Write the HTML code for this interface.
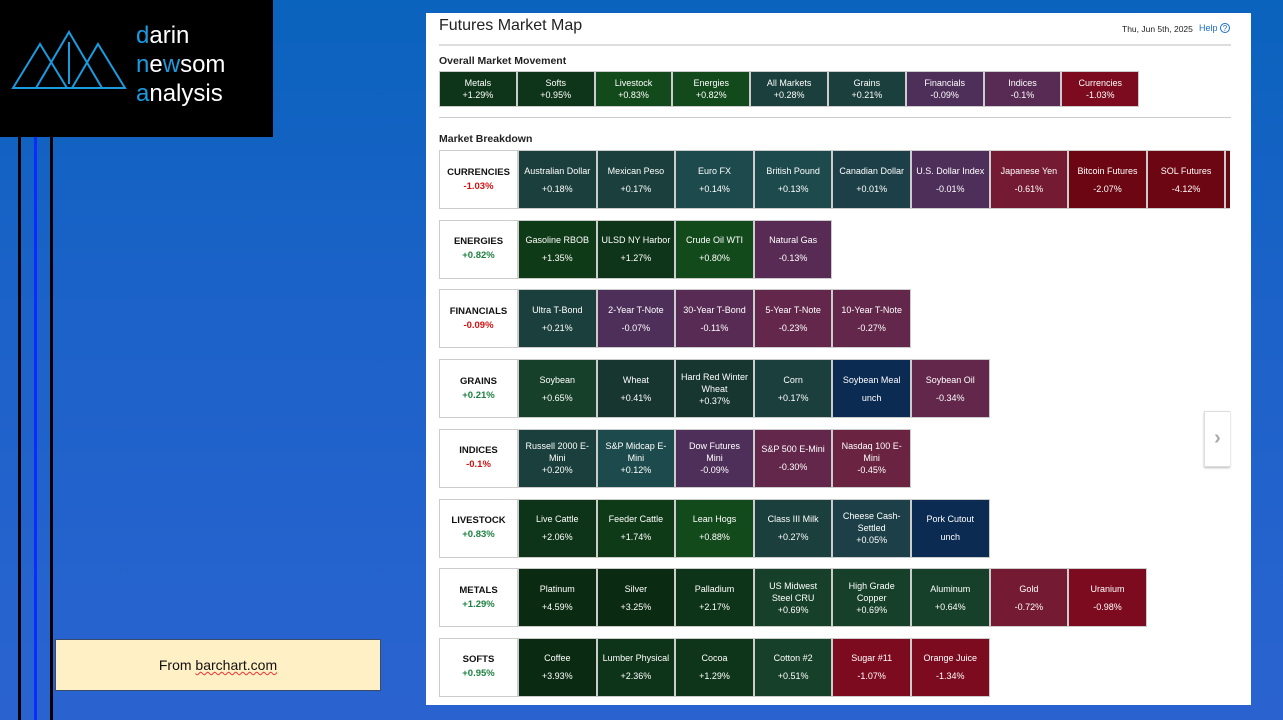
<!DOCTYPE html>
<html><head><meta charset="utf-8">
<style>
*{box-sizing:border-box;margin:0;padding:0}
body{width:1283px;height:720px;overflow:hidden;position:relative;font-family:"Liberation Sans",sans-serif;background:linear-gradient(180deg,#0a63bd 0%,#1b62c8 40%,#2a63d0 100%)}
.abs{position:absolute}
#panel{left:426px;top:13px;width:825px;height:692px;background:#fff}
.tile{position:absolute;color:#fff;font-size:9px;text-align:center;display:flex;flex-direction:column;justify-content:center;align-items:center;line-height:12px;border:1px solid #ccc;white-space:nowrap;overflow:hidden}
.lab{position:absolute;background:#fff;border:1px solid #ccc;text-align:center;display:flex;flex-direction:column;justify-content:center;font-size:9.5px;font-weight:bold;line-height:14px}
</style></head><body>
<div class="abs" style="left:0;top:0;width:273px;height:137px;background:#000">
<svg width="130" height="100" style="position:absolute;left:10px;top:28px">
<g fill="none" stroke="#1a9be0" stroke-width="2">
<polygon points="3,60 30,16 57,60"/><polygon points="26,60 59,4 92,60"/><polygon points="62,60 88,16 115,60"/>
<line x1="59" y1="14" x2="59" y2="56"/></g></svg>
<div class="abs" style="left:136px;top:21px;color:#fff;font-size:24px;line-height:29px"><span style="color:#1a9be0">d</span>arin<br><span style="color:#1a9be0">n</span>e<span style="color:#1a9be0">w</span>som<br><span style="color:#1a9be0">a</span>nalysis</div>
</div>
<div class="abs" style="left:18px;top:137px;width:3px;height:583px;background:#000"></div>
<div class="abs" style="left:34px;top:137px;width:3px;height:583px;background:#0a2cff"></div>
<div class="abs" style="left:50px;top:137px;width:3px;height:583px;background:#000"></div>
<div class="abs" style="left:55px;top:639px;width:326px;height:52px;background:#fff0c6;border:1px solid #3a4a6a;font-size:14px;color:#111;text-align:center;line-height:50px">From <span style="text-decoration:underline wavy #e33 1px">barchart.com</span></div>
<div id="panel" class="abs">
<div class="abs" style="left:13px;top:4px;font-size:16px;color:#222">Futures Market Map</div>
<div class="abs" style="left:696px;top:11px;font-size:8.5px;color:#222">Thu, Jun 5th, 2025</div>
<div class="abs" style="left:773px;top:10px;font-size:9px;color:#1a6fc0">Help <span style="display:inline-block;width:10px;height:10px;border:1px solid #1a6fc0;border-radius:50%;font-size:8px;line-height:9px;text-align:center">?</span></div>
<div class="abs" style="left:13px;top:31px;width:792px;height:2px;background:#ddd"></div>
<div class="abs" style="left:13px;top:42px;font-size:10.5px;font-weight:bold;color:#222">Overall Market Movement</div>
<div class="abs" style="left:13px;top:104px;width:792px;height:1px;background:#ccc"></div>
<div class="abs" style="left:13px;top:120px;font-size:10.5px;font-weight:bold;color:#222">Market Breakdown</div>
<div class="abs" style="left:778px;top:398px;width:26px;height:56px;border:1px solid #ddd;border-right:none;box-shadow:0 1px 2px #bbb;color:#aaa;font-size:20px;font-weight:bold;text-align:center;line-height:52px">›</div>
<div id="map" class="abs" style="left:0;top:0;width:804px;height:692px;overflow:hidden"></div>
</div>
<script>
const overallNames=["Metals","Softs","Livestock","Energies","All Markets","Grains","Financials","Indices","Currencies"];
const overallValues=[1.29,0.95,0.83,0.82,0.28,0.21,-0.09,-0.1,-1.03];
const groupNames=["CURRENCIES","ENERGIES","FINANCIALS","GRAINS","INDICES","LIVESTOCK","METALS","SOFTS"];
const groupValues=[-1.03,0.82,-0.09,0.21,-0.1,0.83,1.29,0.95];
const itemNames=[
["Australian Dollar","Mexican Peso","Euro FX","British Pound","Canadian Dollar","U.S. Dollar Index","Japanese Yen","Bitcoin Futures","SOL Futures",""],
["Gasoline RBOB","ULSD NY Harbor","Crude Oil WTI","Natural Gas"],
["Ultra T-Bond","2-Year T-Note","30-Year T-Bond","5-Year T-Note","10-Year T-Note"],
["Soybean","Wheat","Hard Red Winter Wheat","Corn","Soybean Meal","Soybean Oil"],
["Russell 2000 E-Mini","S&P Midcap E-Mini","Dow Futures Mini","S&P 500 E-Mini","Nasdaq 100 E-Mini"],
["Live Cattle","Feeder Cattle","Lean Hogs","Class III Milk","Cheese Cash-Settled","Pork Cutout"],
["Platinum","Silver","Palladium","US Midwest Steel CRU","High Grade Copper","Aluminum","Gold","Uranium"],
["Coffee","Lumber Physical","Cocoa","Cotton #2","Sugar #11","Orange Juice"]];
const itemValues=[
[0.18,0.17,0.14,0.13,0.01,-0.01,-0.61,-2.07,-4.12,-5],
[1.35,1.27,0.80,-0.13],
[0.21,-0.07,-0.11,-0.23,-0.27],
[0.65,0.41,0.37,0.17,0,-0.34],
[0.20,0.12,-0.09,-0.30,-0.45],
[2.06,1.74,0.88,0.27,0.05,0],
[4.59,3.25,2.17,0.69,0.69,0.64,-0.72,-0.98],
[3.93,2.36,1.29,0.51,-1.07,-1.34]];
const wrapFirst={"Hard Red Winter Wheat":"Hard Red Winter","Russell 2000 E-Mini":"Russell 2000 E-","S&P Midcap E-Mini":"S&P Midcap E-","Dow Futures Mini":"Dow Futures","Nasdaq 100 E-Mini":"Nasdaq 100 E-","Cheese Cash-Settled":"Cheese Cash-","US Midwest Steel CRU":"US Midwest","High Grade Copper":"High Grade"};
function color(v){
 if(v===0)return"#0c2b52";
 if(v>=3)return"#0a2a12";if(v>=2)return"#0d3318";if(v>=1.3)return"#0f3a18";if(v>=0.9)return"#0e3519";if(v>=0.75)return"#134a1c";
 if(v>=0.5)return"#17402a";if(v>=0.3)return"#17362f";if(v>=0.15)return"#1a3f3c";if(v>=0.1)return"#1d4a4c";if(v>0)return"#1d4048";
 if(v>-0.1)return"#4e2f5a";if(v>-0.2)return"#572b53";if(v>-0.35)return"#62274a";if(v>-0.5)return"#6a2340";
 if(v>-0.8)return"#741a33";if(v>-1.5)return"#7c0b1f";return"#6c0612";}
function fmt(v){return v===0?"unch":(v>0?"+":"")+v.toFixed(2)+"%";}
const map=document.getElementById('map');
const ox=13,oy=58,ow=77.8,oh=36;
overallNames.forEach((n,i)=>{
 const d=document.createElement('div');d.className='tile';
 
 
 const v=overallValues[i];
 d.style.cssText+=`left:${ox+i*ow}px;top:${oy}px;width:${ow}px;height:${oh}px;background:${color(v)}`;
 d.innerHTML=`<div>${n}</div><div>${v===-0.1?"-0.1%":fmt(v)}</div>`;map.appendChild(d);});
const bx=13,by=137,lw=79,tw=78.6,th=59,rp=69.7;
groupNames.forEach((g,r)=>{
 const y=by+r*rp;
 const l=document.createElement('div');l.className='lab';
 
 
 const gv=groupValues[r];
 l.style.cssText+=`left:${bx}px;top:${y}px;width:${lw}px;height:${th}px`;
 l.innerHTML=`<div style="color:#111">${g}</div><div style="color:${gv>0?'#1e8040':'#d01010'}">${gv===-0.1?"-0.1%":fmt(gv)}</div>`;
 map.appendChild(l);
 itemNames[r].forEach((n,i)=>{
  const d=document.createElement('div');d.className='tile';
  
  
  const v=itemValues[r][i];
  d.style.cssText+=`left:${bx+lw+i*tw}px;top:${y}px;width:${tw}px;height:${th}px;background:${color(v)}`;
  const f=wrapFirst[n];
  d.innerHTML=!n?'':(f?`<div>${f}</div><div>${n.slice(f.length).trim()}</div><div>${fmt(v)}</div>`:`<div style="margin-bottom:6px">${n}</div><div>${fmt(v)}</div>`);
  map.appendChild(d);});
});
</script>
</body></html>
